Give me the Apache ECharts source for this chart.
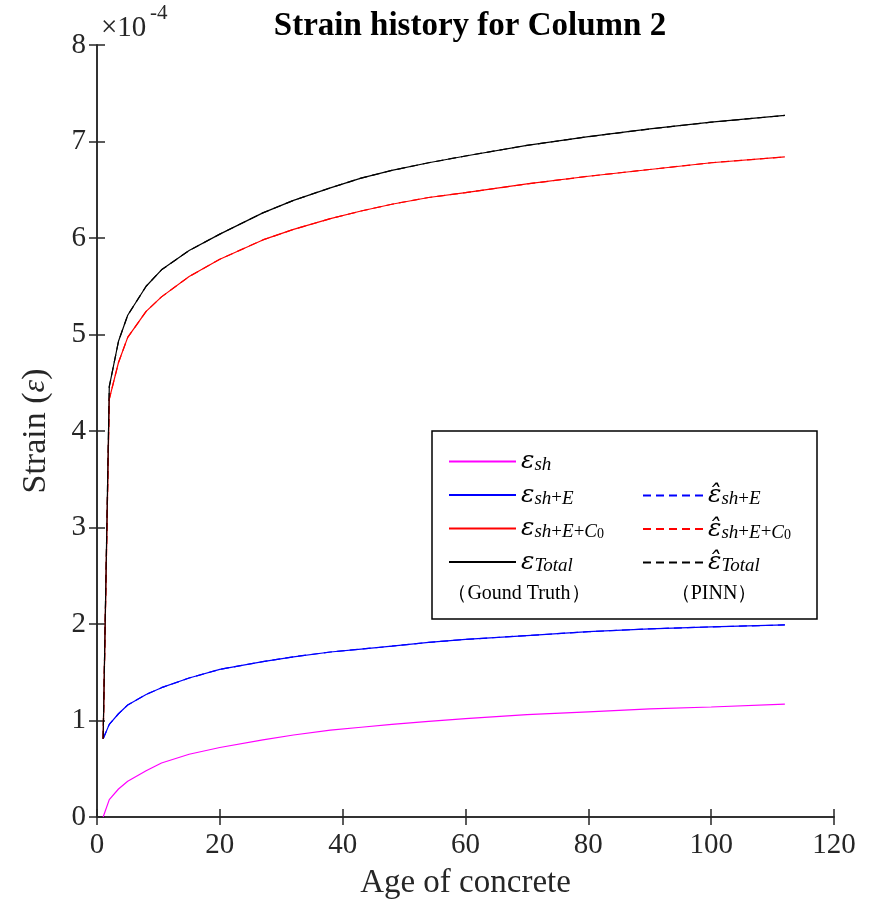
<!DOCTYPE html>
<html>
<head>
<meta charset="utf-8">
<script src="https://cdn.jsdelivr.net/npm/echarts@6/dist/echarts.min.js"></script>
<style>
  html, body { margin: 0; padding: 0; background: #fff; }
  #chart { width: 879px; height: 905px; }
</style>
</head>
<body>
<div id="chart"></div>
<script>
// age of concrete (x) and strains in units of 1e-4
const ages = [1, 2, 3.5, 5, 8, 10.5, 15, 20, 27, 32, 38, 43, 48, 54, 60, 70, 80, 90, 100, 112];
const epsSh = [0.00, 0.18, 0.29, 0.37, 0.48, 0.56, 0.65, 0.72, 0.80, 0.85, 0.90, 0.93, 0.96, 0.99, 1.02, 1.06, 1.09, 1.12, 1.14, 1.17];
const epsShE = [0.81, 0.96, 1.07, 1.16, 1.27, 1.34, 1.44, 1.53, 1.61, 1.66, 1.71, 1.74, 1.77, 1.81, 1.84, 1.88, 1.92, 1.95, 1.97, 1.99];
const epsShEC = [0.81, 4.33, 4.71, 4.97, 5.24, 5.39, 5.60, 5.78, 5.98, 6.09, 6.20, 6.28, 6.35, 6.42, 6.47, 6.56, 6.64, 6.71, 6.78, 6.84];
const epsTotal = [0.81, 4.46, 4.93, 5.20, 5.50, 5.67, 5.87, 6.04, 6.26, 6.39, 6.52, 6.62, 6.70, 6.78, 6.85, 6.96, 7.05, 7.13, 7.20, 7.27];
// PINN predictions (overlap the ground truth)
const pinnShE = [0.81, 0.96, 1.07, 1.16, 1.27, 1.34, 1.44, 1.53, 1.61, 1.66, 1.71, 1.74, 1.77, 1.81, 1.84, 1.88, 1.92, 1.95, 1.97, 1.99];
const pinnShEC = [0.81, 4.33, 4.71, 4.97, 5.24, 5.39, 5.60, 5.78, 5.98, 6.09, 6.20, 6.28, 6.35, 6.42, 6.47, 6.56, 6.64, 6.71, 6.78, 6.84];
const pinnTotal = [0.81, 4.46, 4.93, 5.20, 5.50, 5.67, 5.87, 6.04, 6.26, 6.39, 6.52, 6.62, 6.70, 6.78, 6.85, 6.96, 7.05, 7.13, 7.20, 7.27];

const SERIF = "'Liberation Serif', 'DejaVu Serif', serif";
const MATH = "'DejaVu Serif', serif";
const AXIS = "#262626";

const labels = {
  sh: "{e|ε}{s|sh}",
  shE: "{e|ε}{s|sh}{p|+}{s|E}",
  shEC: "{e|ε}{s|sh}{p|+}{s|E}{p|+}{s|C}{ss|0}",
  total: "{e|ε}{s|Total}",
  hshE: "{e|ε̂}{s|sh}{p|+}{s|E}",
  hshEC: "{e|ε̂}{s|sh}{p|+}{s|E}{p|+}{s|C}{ss|0}",
  htotal: "{e|ε̂}{s|Total}",
};

const legendRich = {
  e: { fontFamily: MATH, fontStyle: "italic", fontSize: 25, lineHeight: 26, color: "#000" },
  s: { fontFamily: SERIF, fontStyle: "italic", fontSize: 19, lineHeight: 16, verticalAlign: "bottom", color: "#000" },
  p: { fontFamily: SERIF, fontSize: 19, lineHeight: 16, verticalAlign: "bottom", color: "#000" },
  ss: { fontFamily: SERIF, fontSize: 14, lineHeight: 11, verticalAlign: "bottom", color: "#000" },
};

const pts = (ys) => ages.map((a, i) => [a, ys[i]]);

const line = (name, ys, color, dashed) => ({
  name,
  type: "line",
  data: pts(ys),
  symbol: "none",
  smooth: false,
  z: dashed ? 3 : 2,
  lineStyle: { color, width: 1.2, type: dashed ? [8, 5] : "solid" },
  itemStyle: { color },
});

const chart = echarts.init(document.getElementById("chart"), null, { renderer: "canvas" });

const axisCommon = {
  axisLine: { show: true, lineStyle: { color: AXIS, width: 1.5 } },
  axisTick: { show: true, inside: true, length: 8, lineStyle: { color: AXIS, width: 1.5 } },
  splitLine: { show: false },
};

const legendCommon = {
  orient: "vertical",
  itemHeight: 14,
  itemGap: 8,
  formatter: (n) => labels[n],
  textStyle: { rich: legendRich },
  itemStyle: { opacity: 0 },
  selectedMode: false,
};

chart.setOption({
  animation: false,
  backgroundColor: "#fff",
  title: {
    text: "Strain history for Column 2",
    left: 465,
    top: 5,
    textAlign: "center",
    textStyle: { fontFamily: SERIF, fontWeight: "bold", fontSize: 33, color: "#000" },
  },
  grid: { left: 97, right: 45, top: 45, bottom: 85 },
  xAxis: [
    {
      type: "value",
      min: 0,
      max: 120,
      interval: 20,
      ...axisCommon,
      axisLabel: { color: AXIS, fontFamily: SERIF, fontSize: 29, margin: 14 },
      name: "Age of concrete",
      nameLocation: "middle",
      nameGap: 50,
      nameTextStyle: { color: AXIS, fontFamily: SERIF, fontSize: 33 },
    },
    {
      type: "value",
      position: "top",
      min: 0,
      max: 120,
      interval: 20,
      ...axisCommon,
      axisLabel: { show: false },
    },
  ],
  yAxis: [
    {
      type: "value",
      min: 0,
      max: 8,
      interval: 1,
      ...axisCommon,
      axisLabel: { color: AXIS, fontFamily: SERIF, fontSize: 29, margin: 11 },
      name: "Strain ({i|ε})",
      nameLocation: "middle",
      nameRotate: 90,
      nameGap: 44,
      nameTextStyle: {
        color: AXIS,
        fontFamily: SERIF,
        fontSize: 34,
        rich: { i: { fontFamily: SERIF, fontStyle: "italic", fontSize: 32, color: AXIS } },
      },
    },
    {
      type: "value",
      position: "right",
      min: 0,
      max: 8,
      interval: 1,
      ...axisCommon,
      axisLabel: { show: false },
    },
  ],
  legend: [
    {
      ...legendCommon,
      data: ["sh", "shE", "shEC", "total"],
      left: 443,
      top: 444,
      itemWidth: 67,
    },
    {
      ...legendCommon,
      data: ["hshE", "hshEC", "htotal"],
      left: 637,
      top: 478,
      itemWidth: 60,
    },
  ],
  graphic: [
    {
      type: "rect",
      shape: { x: 432, y: 431, width: 385, height: 188 },
      style: { fill: "#fff", stroke: "#000", lineWidth: 1.5 },
      z: 1,
    },
    {
      type: "text",
      x: 519,
      y: 594,
      z: 5,
      style: { text: "（Gound Truth）", font: "20px " + SERIF, fill: "#000", align: "center", verticalAlign: "middle" },
    },
    {
      type: "text",
      x: 714,
      y: 594,
      z: 5,
      style: { text: "（PINN）", font: "20px " + SERIF, fill: "#000", align: "center", verticalAlign: "middle" },
    },
    {
      type: "text",
      x: 101,
      y: 28,
      z: 5,
      style: { text: "×10", font: "29px " + SERIF, fill: AXIS, align: "left", verticalAlign: "middle" },
    },
    {
      type: "text",
      x: 150,
      y: 13,
      z: 5,
      style: { text: "-4", font: "21px " + SERIF, fill: AXIS, align: "left", verticalAlign: "middle" },
    },
  ],
  series: [
    line("sh", epsSh, "#ff00ff", false),
    line("shE", epsShE, "#0000ff", false),
    line("shEC", epsShEC, "#ff0000", false),
    line("total", epsTotal, "#000000", false),
    line("hshE", pinnShE, "#0000ff", true),
    line("hshEC", pinnShEC, "#ff0000", true),
    line("htotal", pinnTotal, "#000000", true),
  ],
});
</script>
</body>
</html>
